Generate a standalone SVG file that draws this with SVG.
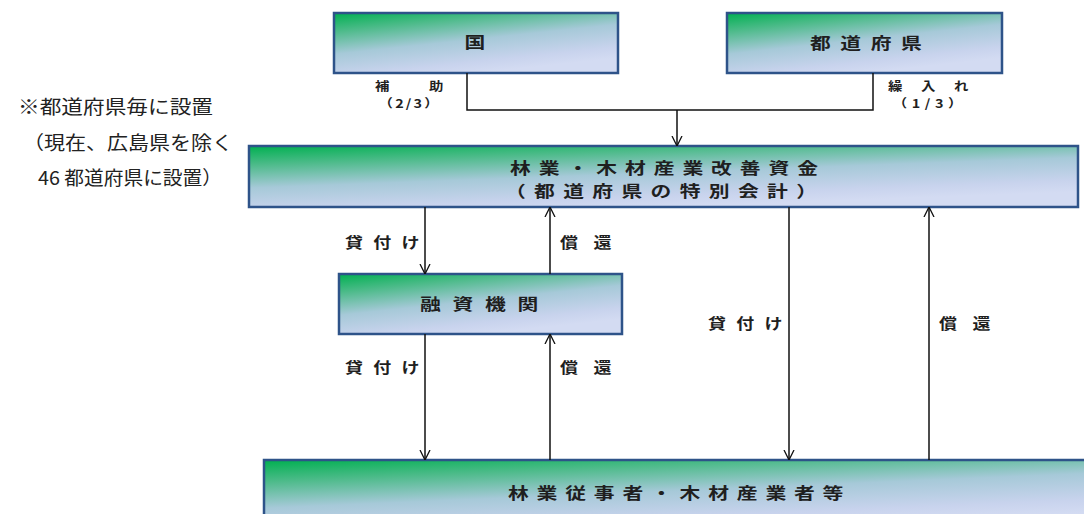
<svg xmlns="http://www.w3.org/2000/svg" width="1084" height="514" viewBox="0 0 1084 514">
<defs>
<linearGradient id="g" x1="0" y1="0" x2="0.5" y2="1">
<stop offset="0" stop-color="#00b050"/>
<stop offset="0.25" stop-color="#4dbb8a"/>
<stop offset="0.55" stop-color="#a6c9d8"/>
<stop offset="0.85" stop-color="#c8d3ed"/>
<stop offset="1" stop-color="#d3dbf2"/>
</linearGradient>
<marker id="ah" viewBox="0 0 10 10" refX="10" refY="5" markerWidth="10" markerHeight="17" markerUnits="userSpaceOnUse" orient="auto">
<path d="M0,0 L10,5 L0,10" fill="none" stroke="#111" stroke-width="1.3"/>
</marker>
<style>
.box{fill:url(#g);stroke:#2e5389;stroke-width:2.5}
.t{font-family:"Noto Sans CJK JP","Noto Sans",sans-serif;fill:#1f1f1f}
.bt{font-size:16px;font-weight:bold}
.lb{font-size:15px;font-weight:bold}
.sm{font-size:12px;font-weight:bold}
.nt{font-size:19px;fill:#222}
.ln{fill:none;stroke:#111;stroke-width:1.5}
.ar{fill:none;stroke:#111;stroke-width:1.5;marker-end:url(#ah)}
</style>
</defs>
<rect width="1084" height="514" fill="#fff"/>

<g id="note">
<text class="t nt" x="18" y="114" textLength="195" lengthAdjust="spacingAndGlyphs">※都道府県毎に設置</text>
<text class="t nt" x="23" y="150" textLength="210" lengthAdjust="spacingAndGlyphs">（現在、広島県を除く</text>
<text class="t nt" x="38" y="185" textLength="184" lengthAdjust="spacingAndGlyphs">46 都道府県に設置）</text>
</g>

<g id="kuni">
<rect class="box" x="334" y="13" width="284" height="60"/>
<text class="t bt" transform="translate(475,48) scale(1.3,1)" text-anchor="middle">国</text>
</g>

<g id="todofuken">
<rect class="box" x="727" y="13" width="275" height="60"/>
<text class="t bt" transform="translate(810,49) scale(1.3,1)" textLength="86" lengthAdjust="spacing">都道府県</text>
</g>

<g id="shikin">
<rect class="box" x="249" y="146" width="829" height="61"/>
<text class="t bt" transform="translate(510,174) scale(1.3,1)" textLength="237" lengthAdjust="spacing">林業・木材産業改善資金</text>
<text class="t bt" transform="translate(505,197) scale(1.3,1)" textLength="240" lengthAdjust="spacing">（都道府県の特別会計）</text>
</g>

<g id="yushi">
<rect class="box" x="339" y="274" width="283" height="60"/>
<text class="t bt" transform="translate(420,310) scale(1.3,1)" textLength="91" lengthAdjust="spacing">融資機関</text>
</g>

<g id="jigyosha">
<rect class="box" x="264" y="460" width="830" height="70"/>
<text class="t bt" transform="translate(508,499) scale(1.3,1)" textLength="258" lengthAdjust="spacing">林業従事者・木材産業者等</text>
</g>

<g id="connectors">
<polyline class="ln" points="467,73 467,110 873,110 873,73"/>
<line class="ar" x1="677" y1="110" x2="677" y2="146"/>
<line class="ar" x1="425" y1="207" x2="425" y2="274"/>
<line class="ar" x1="550" y1="274" x2="550" y2="207"/>
<line class="ar" x1="425" y1="334" x2="425" y2="460"/>
<line class="ar" x1="550" y1="460" x2="550" y2="334"/>
<line class="ar" x1="789" y1="207" x2="789" y2="460"/>
<line class="ar" x1="929" y1="460" x2="929" y2="207"/>
</g>

<g id="labels">
<text class="t sm" transform="translate(375,91) scale(1.2,1)"><tspan x="0" y="0" textLength="57" lengthAdjust="spacing">補　助</tspan><tspan x="3" y="17" textLength="50" lengthAdjust="spacing">（2/3）</tspan></text>
<text class="t sm" transform="translate(888,91) scale(1.2,1)"><tspan x="0" y="0" textLength="67" lengthAdjust="spacing">繰入れ</tspan><tspan x="4" y="17" textLength="58" lengthAdjust="spacing">（1/3）</tspan></text>
<text class="t lb" transform="translate(345,248) scale(1.2,1)" textLength="62" lengthAdjust="spacing">貸付け</text>
<text class="t lb" transform="translate(560,248) scale(1.2,1)" textLength="43" lengthAdjust="spacing">償還</text>
<text class="t lb" transform="translate(345,373) scale(1.2,1)" textLength="62" lengthAdjust="spacing">貸付け</text>
<text class="t lb" transform="translate(560,373) scale(1.2,1)" textLength="43" lengthAdjust="spacing">償還</text>
<text class="t lb" transform="translate(708,329) scale(1.2,1)" textLength="62" lengthAdjust="spacing">貸付け</text>
<text class="t lb" transform="translate(939,329) scale(1.2,1)" textLength="43" lengthAdjust="spacing">償還</text>
</g>
</svg>
